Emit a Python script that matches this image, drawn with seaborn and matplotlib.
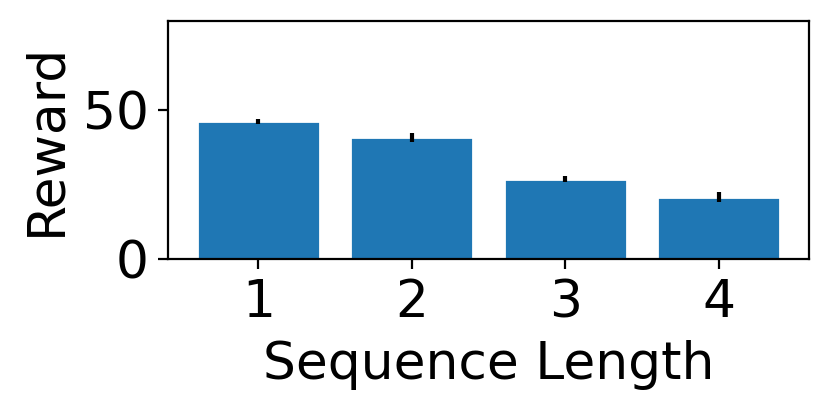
import matplotlib
matplotlib.use('Agg')
import matplotlib.pyplot as plt
import seaborn as sns
import pandas as pd

# values
seq_len = ['1', '2', '3', '4']
reward = [46.2, 40.8, 26.8, 20.7]
reward_err = [0.75, 1.6, 1.0, 1.7]

sns.set_style('ticks')
plt.rcParams['font.family'] = ['DejaVu Sans']
plt.rcParams['text.color'] = 'black'
plt.rcParams['axes.labelcolor'] = 'black'
plt.rcParams['xtick.color'] = 'black'
plt.rcParams['ytick.color'] = 'black'

df = pd.DataFrame({'Sequence Length': seq_len, 'Reward': reward})

fig, ax = plt.subplots(figsize=(4.15, 2.06), dpi=200)
sns.barplot(data=df, x='Sequence Length', y='Reward', color='#1f77b4',
            saturation=1, width=0.8, errorbar=None, ax=ax)
ax.errorbar(range(len(seq_len)), reward, yerr=reward_err, fmt='none',
            ecolor='black', elinewidth=1.5, capsize=0)

ax.set_xlim(-0.59, 3.59)
ax.set_ylim(0, 80)
ax.set_yticks([0, 50])
ax.set_xlabel('Sequence Length', fontsize=18.7)
ax.set_ylabel('Reward', fontsize=18.7)
ax.tick_params(labelsize=18.7, width=0.8, length=3.5)
for s in ax.spines.values():
    s.set_visible(True)
    s.set_linewidth(0.8)
    s.set_color('black')

fig.subplots_adjust(left=0.2024, right=0.9747, top=0.9498, bottom=0.3714)
fig.savefig('out.png', dpi=200)
